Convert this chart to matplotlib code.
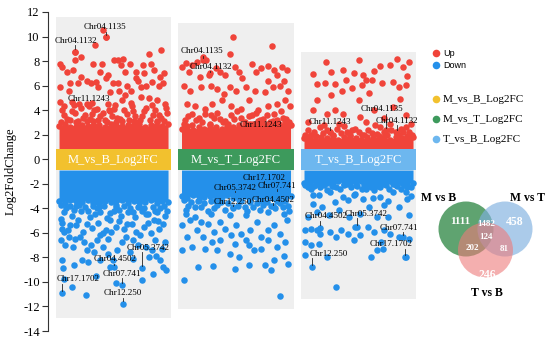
import matplotlib.pyplot as plt
from matplotlib.patches import Rectangle, Circle
import numpy as np

# ---- data ----
panel_names = ['M_vs_B_Log2FC', 'M_vs_T_Log2FC', 'T_vs_B_Log2FC']
band_colors = ['#F2C12E', '#3D9A5C', '#6DB7EF']
bg_top = [11.6, 11.1, 8.7]
bg_bottom = [-12.9, -12.2, -11.4]

# top / bottom edge of the dense cloud of points (across each strip)
up_core = [
    [2.7, 2.9, 2.6, 3.0, 2.8, 2.7, 3.1, 2.8, 2.6, 2.9, 3.0, 2.7, 2.8, 3.1, 2.9, 2.6, 2.8, 3.0, 2.7, 2.9],
    [2.5, 2.7, 2.4, 2.6, 2.5, 2.8, 2.6, 2.5, 2.7, 2.6, 2.8, 2.7, 2.9, 2.8, 3.0, 2.9, 3.1, 2.9, 3.0, 2.8],
    [1.7, 1.9, 1.6, 1.8, 1.7, 1.9, 1.6, 1.8, 1.9, 1.7, 1.6, 1.8, 1.7, 1.9, 1.8, 1.6, 1.8, 1.7, 1.9, 1.8],
]
down_core = [
    [-3.4, -3.6, -3.3, -3.8, -3.5, -3.3, -3.6, -3.9, -3.4, -3.5, -3.7, -3.3, -3.6, -3.4, -3.8, -3.5, -3.3, -3.6, -3.4, -3.5],
    [-3.0, -3.2, -2.9, -3.3, -3.1, -3.0, -3.4, -3.1, -2.9, -3.2, -3.3, -3.0, -3.2, -3.1, -3.4, -3.0, -3.2, -3.3, -3.1, -3.0],
    [-1.9, -2.1, -1.8, -2.0, -1.9, -2.2, -1.8, -2.0, -1.9, -2.1, -1.8, -2.0, -2.1, -1.9, -2.0, -1.8, -2.1, -1.9, -2.0, -1.9],
]

# (position across strip in %, log2FC)
mb_up = [(40.6, 10.5), (42.9, 9.97), (15.1, 8.75), (32.8, 9.3), (15.1, 8.07), (19.7, 8.3), (0.6, 7.8),
         (2.9, 7.5), (7.2, 7.1), (13.0, 7.25), (31.3, 7.8), (39.1, 7.8), (37.7, 7.1), (44.9, 6.85),
         (50.7, 8.07), (54.5, 8.1), (58.8, 8.2), (56.5, 7.66), (65.2, 7.8), (76.8, 7.66), (82.6, 8.56),
         (93.3, 8.94), (84.6, 7.8), (87.0, 7.25), (92.8, 6.7), (96.5, 7.0), (60.9, 7.1), (71.0, 7.1),
         (70.4, 6.6), (78.3, 7.0), (20.3, 6.7), (26.1, 6.4), (29.0, 6.2), (17.4, 6.2), (10.1, 6.2),
         (0.6, 5.85), (8.7, 5.6), (33.9, 6.3), (36.2, 5.9), (42.9, 6.6), (49.3, 6.2), (54.2, 6.2),
         (62.3, 5.95), (66.1, 5.6), (72.5, 6.4), (75.4, 5.9), (79.7, 6.0), (85.5, 6.3), (91.3, 6.0),
         (95.7, 6.2), (0.6, 4.7), (4.3, 4.3), (11.6, 4.7), (18.0, 4.5), (26.1, 4.5), (34.8, 4.1),
         (44.9, 4.5), (50.7, 4.1), (58.0, 4.8), (60.9, 5.2), (66.7, 4.3), (75.4, 5.1), (82.6, 4.95),
         (89.9, 4.8), (97.1, 4.5), (46.4, 5.5), (55.1, 5.6), (5, 3.6), (15, 3.8), (22, 3.4), (30, 3.7),
         (38, 3.5), (47, 3.9), (53, 3.4), (62, 3.7), (70, 3.5), (78, 3.9), (86, 3.6), (94, 3.4), (99, 3.8),
         (10, 3.2), (26, 3.1), (42, 3.2), (58, 3.1), (74, 3.2), (90, 3.1),
         (2, 3.0), (7, 3.3), (12, 3.9), (17, 3.1), (20, 4.2), (24, 3.6), (28, 3.3), (32, 4.0), (36, 3.2),
         (40, 3.8), (44, 3.0), (49, 3.5), (51, 4.4), (56, 3.3), (60, 4.0), (64, 3.2), (68, 3.9), (72, 3.0),
         (76, 3.5), (80, 4.2), (83, 3.2), (88, 4.0), (92, 3.6), (96, 3.1), (98, 4.2), (3, 4.0), (14, 4.4),
         (30, 4.6), (46, 4.0), (66, 4.6), (85, 4.4)]
mb_down = [(1.4, -4.84), (2.3, -5.65), (4.3, -5.92), (1.4, -6.6), (5.8, -7.0), (8.7, -6.33), (13.0, -7.15),
           (18.8, -6.33), (23.2, -6.74), (25.5, -7.42), (29.0, -7.0), (31.9, -7.55), (34.8, -6.6),
           (37.7, -6.2), (40.6, -7.15), (44.9, -7.69), (49.3, -8.23), (53.6, -7.42), (58.0, -6.74),
           (61.4, -6.33), (65.2, -7.55), (68.1, -8.1), (72.5, -7.0), (79.7, -7.15), (82.6, -7.96),
           (85.5, -7.4), (89.3, -7.9), (92.8, -8.23), (95.7, -8.8), (98.0, -9.05), (94.2, -7.3),
           (97.1, -6.74), (2.9, -8.23), (3.5, -8.9), (4.3, -9.73), (11.6, -10.4), (13.9, -8.64),
           (21.2, -8.18), (24.6, -11.1), (26.7, -8.37), (33.9, -9.54), (37.7, -8.23), (52.2, -10.1),
           (47.2, -8.8), (85.8, -9.32), (75.9, -9.81), (43.5, -5.79), (26.1, -5.24), (33.3, -4.43),
           (17.4, -4.97), (66.7, -5.24), (78.3, -5.52), (87.0, -4.97), (95.7, -5.24), (52.2, -5.52),
           (10.1, -5.38), (71.0, -5.92), (46.4, -4.97), (5, -4.3), (12, -4.6), (20, -4.2), (28, -4.7),
           (38, -4.3), (44, -4.8), (50, -4.2), (57, -4.6), (63, -4.3), (70, -4.7), (76, -4.2), (82, -4.5),
           (90, -4.3), (97, -4.6), (8, -5.8), (22, -5.9), (30, -5.6), (40, -6.0), (48, -5.9), (60, -5.7),
           (74, -6.2), (84, -6.0), (92, -5.7), (15, -6.5), (45, -6.5), (68, -6.6), (88, -6.6),
           (2, -3.7), (6, -4.0), (10, -3.8), (14, -4.1), (18, -3.7), (24, -3.9), (27, -4.2), (31, -3.8),
           (35, -4.0), (41, -3.8), (47, -4.4), (52, -3.9), (55, -4.1), (60, -3.8), (65, -4.0), (68, -4.3),
           (72, -3.9), (78, -4.0), (80, -4.5), (86, -3.9), (88, -4.2), (93, -4.0), (96, -3.8), (99, -4.2),
           (3, -5.2), (16, -5.4), (36, -5.2), (55, -5.0), (62, -5.3), (82, -5.2), (91, -5.0)]
mt_up = [(47.2, 10.0), (82.6, 9.2), (44.3, 8.6), (19.7, 8.3), (3.8, 7.85), (9.6, 7.66), (13.9, 7.93),
         (22.6, 8.07), (31.3, 7.4), (35.7, 7.1), (40.0, 6.85), (48.7, 7.5), (53.0, 7.1), (55.9, 6.6),
         (64.6, 7.8), (68.1, 7.1), (73.3, 7.4), (79.1, 7.6), (84.9, 7.25), (92.2, 7.5), (97.1, 7.25),
         (87.8, 6.85), (79.1, 6.4), (93.6, 6.4), (25.5, 6.85), (16.8, 6.7), (6.7, 7.1), (0.9, 7.5),
         (2.3, 6.0), (8.1, 5.6), (18.3, 5.9), (27.0, 6.0), (32.8, 5.75), (38.6, 5.35), (44.3, 5.9),
         (50.1, 5.6), (58.8, 5.85), (67.5, 5.6), (76.2, 5.5), (83.5, 5.9), (90.7, 5.95), (98.0, 5.6),
         (5.2, 4.5), (12.5, 4.3), (21.2, 4.1), (28.4, 4.5), (37.1, 4.8), (45.8, 4.3), (54.5, 4.1),
         (61.7, 4.8), (70.4, 4.0), (79.1, 4.3), (87.8, 4.5), (95.1, 4.8), (99.4, 4.3), (9.6, 3.7),
         (27.0, 3.6), (64.6, 3.6), (16, 3.4), (35, 3.3), (45, 3.6), (55, 3.4), (75, 3.3), (85, 3.7),
         (93, 3.4), (3, 3.2), (40, 3.1), (70, 3.1),
         (2, 2.9), (6, 3.5), (10, 2.8), (13, 3.2), (19, 3.0), (22, 3.7), (26, 2.9), (30, 3.4), (33, 3.8),
         (38, 3.0), (43, 2.9), (48, 3.3), (51, 3.9), (58, 3.0), (62, 3.5), (66, 2.9), (68, 3.8), (72, 3.2),
         (78, 3.6), (81, 3.0), (88, 3.2), (91, 3.9), (96, 3.3), (99, 3.0)]
mt_down = [(15.4, -8.78), (29.3, -8.72), (48.7, -8.91), (61.7, -8.64), (76.2, -8.64), (84.9, -8.23),
           (94.2, -7.9), (98.0, -8.5), (82.0, -9.05), (2.3, -9.86), (90.7, -11.14), (3.8, -4.43),
           (8.1, -4.97), (13.9, -5.79), (19.7, -6.33), (24.1, -5.24), (29.9, -5.92), (35.7, -6.6),
           (40.0, -5.65), (45.8, -6.2), (50.1, -5.38), (54.5, -6.06), (58.8, -6.6), (63.2, -5.79),
           (69.0, -5.11), (73.3, -6.33), (79.1, -5.79), (84.9, -5.38), (90.7, -6.06), (96.5, -4.97),
           (5.2, -6.33), (9.6, -7.15), (21.2, -7.28), (32.8, -7.42), (44.3, -7.69), (53.0, -7.96),
           (66.1, -7.42), (73.3, -7.28), (87.8, -7.15), (12.5, -4.7), (27.0, -4.43), (44.3, -4.57),
           (58.8, -4.57), (79.1, -4.29), (93.6, -4.43), (0.9, -5.38), (18.3, -5.11), (35.7, -5.11),
           (48.7, -6.87), (61.7, -7.0), (79.1, -6.6), (95.1, -6.74), (28.4, -6.74), (0.9, -7.42),
           (6, -3.8), (18, -3.9), (33, -3.7), (40, -4.1), (52, -3.8), (66, -3.9), (75, -3.7), (86, -4.0),
           (98, -3.8), (24, -4.2), (60, -4.2), (90, -3.6),
           (2, -3.3), (4, -4.1), (9, -3.5), (12, -3.9), (15, -3.4), (21, -3.6), (27, -3.4), (30, -4.0),
           (36, -3.5), (43, -3.6), (47, -4.0), (55, -3.4), (58, -3.9), (63, -3.5), (69, -3.6), (72, -4.1),
           (78, -3.5), (82, -3.8), (88, -3.4), (93, -3.9), (95, -3.4), (99, -4.2)]
tb_up = [(8.7, 6.93), (25.2, 7.12), (35.4, 7.26), (45.5, 7.04), (54.2, 6.85), (64.3, 7.2), (78.8, 7.66),
         (90.4, 7.53), (94.8, 6.77), (12.2, 6.17), (19.4, 6.22), (28.1, 6.11), (38.3, 6.49), (44.1, 5.84),
         (52.8, 6.03), (57.1, 6.44), (62.0, 6.44), (71.6, 6.22), (81.7, 6.3), (87.0, 5.9), (93.3, 6.03),
         (20, 7.9), (50, 8.1), (70, 7.6), (85, 8.2), (96, 7.9), (12.2, 4.81), (7.8, 4.0), (20.9, 3.72),
         (28.1, 4.0), (35.4, 3.72), (51.3, 3.45), (64.3, 4.0), (73.0, 3.32), (81.7, 4.27), (93.3, 3.59),
         (97.7, 2.91), (3.5, 3.04), (18.0, 2.77), (32.5, 2.91), (44.1, 2.36), (57.1, 3.04), (70.1, 2.64),
         (78.8, 2.91), (89.0, 2.5), (23.8, 2.23), (39.7, 2.23), (84.6, 2.23), (96.2, 2.23), (6.4, 1.96),
         (52.8, 1.96), (67.2, 2.09), (25, 5.2), (50, 4.8), (60, 5.4), (88, 4.9), (35, 5.6),
         (1, 2.0), (4, 2.4), (9, 2.2), (11, 1.9), (15, 2.6), (17, 2.1), (21, 2.4), (27, 2.0), (30, 2.5),
         (34, 2.1), (37, 2.7), (42, 2.0), (47, 2.5), (50, 2.2), (55, 2.0), (59, 2.4), (62, 2.1), (65, 2.8),
         (73, 2.2), (76, 2.0), (80, 2.4), (87, 2.0), (91, 2.2), (94, 2.6), (99, 2.0)]
tb_down = [(3.5, -2.26), (12.2, -2.04), (29.6, -2.26), (39.7, -1.98), (52.8, -2.39), (67.2, -2.2),
           (81.7, -1.98), (94.8, -2.26), (8.7, -2.93), (23.8, -2.66), (35.4, -3.07), (47.0, -2.8),
           (57.1, -2.39), (70.1, -3.07), (81.7, -2.66), (93.3, -2.66), (7.8, -3.61), (16.5, -3.89),
           (28.1, -3.48), (45.5, -2.93), (54.2, -3.21), (60.0, -3.89), (73.0, -3.75), (87.5, -3.89),
           (94.8, -3.21), (3.5, -4.7), (12.2, -4.29), (23.2, -4.57), (32.5, -4.16), (41.2, -4.7),
           (51.3, -4.43), (67.2, -4.7), (77.4, -4.7), (96.2, -4.57), (1.2, -5.79), (6.4, -5.65),
           (11.6, -5.79), (15.1, -6.06), (23.8, -5.92), (29.6, -6.33), (33.9, -5.79), (40.6, -6.06),
           (45.5, -6.6), (47.0, -5.52), (51.3, -6.2), (58.6, -5.52), (64.3, -5.92), (70.7, -6.74),
           (73.0, -5.79), (78.8, -6.06), (87.5, -6.33), (96.2, -6.47), (66.7, -7.42), (72.5, -7.28),
           (1.2, -6.74), (6.4, -7.01), (13.6, -6.87), (0.6, -7.83), (20.9, -7.96), (29.6, -10.41),
           (61.4, -7.96), (93.3, -7.96),
           (1, -2.1), (6, -2.4), (9, -2.2), (15, -2.3), (18, -2.1), (21, -2.5), (26, -2.2), (33, -2.4),
           (37, -2.1), (43, -2.3), (49, -2.2), (55, -2.1), (61, -2.3), (64, -2.5), (70, -2.3), (75, -2.1),
           (78, -2.4), (85, -2.2), (89, -2.4), (92, -2.1), (98, -2.3), (14, -2.9), (40, -3.3), (63, -3.2),
           (77, -3.4), (98, -3.0)]
up_points = [mb_up, mt_up, tb_up]
down_points = [mb_down, mt_down, tb_down]

# labelled genes: (name, text %, text y, point %, point y)
mb_labels = [('Chr04.1135', 42.4, 10.76, 42.9, 9.94), ('Chr04.1132', 15.5, 9.62, 15.1, 8.75),
             ('Chr11.1243', 27.7, 4.89, 27.5, 4.32), ('Chr05.3742', 81.6, -7.25, 75.9, -8.9),
             ('Chr04.4502', 51.1, -8.15, 50.7, -8.8), ('Chr07.741', 58.1, -9.37, 57.7, -10.27),
             ('Chr17.1702', 17.7, -9.78, 2.9, -10.9), ('Chr12.250', 58.1, -10.92, 58.5, -11.77)]
mt_labels = [('Chr04.1135', 19.1, 8.8, 20.0, 8.07), ('Chr04.1132', 27.0, 7.5, 26.1, 7.0),
             ('Chr11.1243', 72.6, 2.77, 72.2, 2.2), ('Chr17.1702', 76.1, -1.55, 75.7, -2.0),
             ('Chr05.3742', 48.7, -2.36, 48.7, -2.8), ('Chr07.741', 87.8, -2.2, 87.8, -2.6),
             ('Chr12.250', 47.4, -3.5, 47.0, -3.9), ('Chr04.4502', 84.3, -3.34, 84.3, -3.8)]
tb_labels = [('Chr04.1135', 71.3, 4.07, 74.8, 2.36), ('Chr04.1132', 85.2, 3.1, 85.2, 2.2),
             ('Chr11.1243', 23.5, 3.0, 23.5, 2.2), ('Chr04.4502', 20.0, -4.65, 14.8, -5.6),
             ('Chr05.3742', 57.0, -4.48, 48.7, -5.54), ('Chr07.741', 87.0, -5.62, 90.4, -6.36),
             ('Chr17.1702', 80.0, -6.93, 93.0, -8.0), ('Chr12.250', 22.6, -7.74, 7.0, -8.8)]
gene_labels = [mb_labels, mt_labels, tb_labels]

venn_sets = ['M vs B', 'M vs T', 'T vs B']
venn_colors = ['#2A8540', '#7FB0DF', '#EE7A7A']
venn_alpha = [0.75, 0.65, 0.6]
venn_counts = [1111, 458, 246, 1482, 202, 81, 124]

UP = '#F0443A'
DOWN = '#2490EA'
SERIF = 'Liberation Serif'

fig = plt.figure(figsize=(5.5, 3.41), dpi=100)
ax = fig.add_axes([48 / 550, 10 / 341, 372 / 550, 319 / 341])
ax.set_xlim(-0.535, 2.502)
ax.set_ylim(-14, 12)


def xpos(i, pct):
    return i + (np.asarray(pct, dtype=float) / 100 - 0.5) * 0.89


for i in range(3):
    ax.add_patch(Rectangle((i - 0.47, bg_bottom[i]), 0.94, bg_top[i] - bg_bottom[i],
                           color='#EFEFEF', lw=0, zorder=0))
    grid = np.linspace(0, 100, len(up_core[i]))
    xs = xpos(i, grid)
    ax.fill_between(xs, 0.82, up_core[i], color=UP, lw=0, zorder=1)
    ax.fill_between(xs, -0.88, down_core[i], color=DOWN, lw=0, zorder=1)
    ax.scatter(xs, up_core[i], s=22, color=UP, lw=0, zorder=1)
    ax.scatter(xs, down_core[i], s=22, color=DOWN, lw=0, zorder=1)

    u = np.array(up_points[i])
    d = np.array(down_points[i])
    ax.scatter(xpos(i, u[:, 0]), u[:, 1], s=22, color=UP, lw=0, zorder=2)
    ax.scatter(xpos(i, d[:, 0]), d[:, 1], s=22, color=DOWN, lw=0, zorder=2)

    ax.add_patch(Rectangle((i - 0.47, -0.88), 0.94, 1.7, color=band_colors[i], lw=0, zorder=3))
    ax.text(i, -0.03, panel_names[i], color='white', ha='center', va='center',
            fontsize=9, family=SERIF, zorder=4)

    for name, tp, tv, pp, pv in gene_labels[i]:
        c = UP if pv > 0 else DOWN
        ax.scatter(xpos(i, pp), pv, s=22, color=c, lw=0, zorder=2)
        ax.plot([xpos(i, pp), xpos(i, pp)], [pv + 0.2, tv - 0.35], color='#222222', lw=0.6, zorder=5)
        ax.text(xpos(i, tp), tv, name, ha='center', va='center', fontsize=6.5,
                family=SERIF, zorder=5)

for s in ['top', 'right', 'bottom']:
    ax.spines[s].set_visible(False)
ax.spines['left'].set_color('#333333')
ax.set_xticks([])
ax.set_yticks(range(-14, 13, 2))
ax.set_yticklabels([str(v) for v in range(-14, 13, 2)], family=SERIF, fontsize=9)
ax.tick_params(axis='y', length=4, pad=2, color='#333333')
ax.set_ylabel('Log2FoldChange', family=SERIF, fontsize=9)
ax.yaxis.set_label_coords(-0.083, 0.5)
ax.patch.set_alpha(0)

# legend and venn drawn in pixel coordinates of the figure
ov = fig.add_axes([0, 0, 1, 1])
ov.set_xlim(0, 550)
ov.set_ylim(341, 0)
ov.axis('off')

leg_labels = ['Up', 'Down'] + panel_names
leg_colors = [UP, DOWN] + band_colors
leg_y = [53, 65, 99, 119, 139]
for lab, col, y in zip(leg_labels, leg_colors, leg_y):
    ov.scatter(436, y, s=30, color=col, lw=0)
    if lab in ('Up', 'Down'):
        ov.text(443, y, lab, va='center', fontsize=6.5, family='Liberation Sans')
    else:
        ov.text(443, y, lab, va='center', fontsize=8, family=SERIF)

centers = [(466, 229), (505, 229), (485.5, 250)]
for (cx, cy), col, a in zip(centers, venn_colors, venn_alpha):
    ov.add_patch(Circle((cx, cy), 27.5, color=col, alpha=a, lw=0))

set_pos = [(439, 198), (528, 198), (487, 293)]
for name, (x, y) in zip(venn_sets, set_pos):
    ov.text(x, y, name, ha='center', va='center', fontsize=8.5, fontweight='bold', family=SERIF)

count_pos = [(460, 222), (515, 222), (487, 275), (486, 224), (472, 248), (504, 249), (486, 237)]
count_size = [8, 8.5, 8.5, 6.5, 6.5, 6.5, 6.5]
for n, (x, y), fs in zip(venn_counts, count_pos, count_size):
    ov.text(x, y, str(n), ha='center', va='center', fontsize=fs, fontweight='bold',
            color='white', family=SERIF)

fig.savefig('out.png', dpi=100)
